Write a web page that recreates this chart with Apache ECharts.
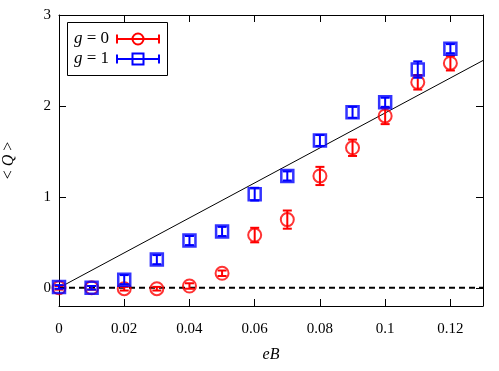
<!DOCTYPE html>
<html>
<head>
<meta charset="utf-8">
<script src="https://cdn.jsdelivr.net/npm/echarts@6/dist/echarts.min.js"></script>
<style>html,body{margin:0;padding:0;background:#fff;}#c{width:499px;height:371px;}</style>
</head>
<body>
<div id="c"></div>
<script>
const eB = [0, 0.01, 0.02, 0.03, 0.04, 0.05, 0.06, 0.07, 0.08, 0.09, 0.10, 0.11, 0.12];
const Q_g0 = [0, 0, -0.01, -0.01, 0.02, 0.16, 0.58, 0.75, 1.23, 1.54, 1.89, 2.26, 2.47];
const err_g0 = [0.02, 0.02, 0.02, 0.02, 0.03, 0.03, 0.08, 0.10, 0.10, 0.09, 0.09, 0.08, 0.08];
const Q_g1 = [0.01, 0, 0.09, 0.31, 0.52, 0.62, 1.03, 1.23, 1.62, 1.93, 2.04, 2.40, 2.63];
const err_g1 = [0.02, 0.02, 0.05, 0.05, 0.05, 0.05, 0.07, 0.05, 0.06, 0.06, 0.05, 0.09, 0.05];
const refLine = [[0, 0], [0.13, 2.5]];
const zeroLine = [[0, 0], [0.13, 0]];
const xTicks = [0, 0.02, 0.04, 0.06, 0.08, 0.1, 0.12];
const yTicks = [0, 1, 2, 3];
const legendLabels = ['g = 0', 'g = 1'];

const FONT = "'Times New Roman', 'Liberation Serif', serif";
const chart = echarts.init(document.getElementById('c'));

function errData(q, e) { return eB.map((x, i) => [x, q[i] - e[i], q[i] + e[i]]); }
function pts(q) { return eB.map((x, i) => [x, q[i]]); }
function errRender(color) {
  return function (params, api) {
    const x = api.value(0), lo = api.value(1), hi = api.value(2);
    const p1 = api.coord([x, lo]), p2 = api.coord([x, hi]);
    const w = 4.5;
    const st = { stroke: color, lineWidth: 2 };
    return {
      type: 'group',
      children: [
        { type: 'line', shape: { x1: p1[0], y1: p1[1], x2: p2[0], y2: p2[1] }, style: st },
        { type: 'line', shape: { x1: p1[0] - w, y1: p1[1], x2: p1[0] + w, y2: p1[1] }, style: st },
        { type: 'line', shape: { x1: p2[0] - w, y1: p2[1], x2: p2[0] + w, y2: p2[1] }, style: st }
      ]
    };
  };
}

function axisBase(ticks) {
  return {
    axisLine: { show: true, onZero: false, lineStyle: { color: '#000', width: 1 } },
    axisTick: { show: true, inside: true, length: 7, customValues: ticks, lineStyle: { color: '#000', width: 1 } },
    splitLine: { show: false }
  };
}

const legendRows = [
  { y: 39, color: 'red', label: legendLabels[0], sym: 'circle' },
  { y: 59, color: 'blue', label: legendLabels[1], sym: 'square' }
];
const legendChildren = [
  { type: 'rect', shape: { x: 67.5, y: 22.5, width: 100, height: 53 }, style: { fill: '#fff', stroke: '#000', lineWidth: 1 } }
];
legendRows.forEach(r => {
  const parts = r.label.split(' ');
  legendChildren.push({ type: 'text', x: 74, y: r.y, style: { text: '{i|' + parts[0] + '} ' + parts.slice(1).join(' '), fontFamily: FONT, fontSize: 17, fill: '#000', verticalAlign: 'middle', rich: { i: { fontStyle: 'italic', fontFamily: FONT, fontSize: 17 } } } });
  const st = { stroke: r.color, lineWidth: 2, fill: 'none' };
  legendChildren.push({ type: 'line', shape: { x1: 117, y1: r.y, x2: 159, y2: r.y }, style: st });
  legendChildren.push({ type: 'line', shape: { x1: 117, y1: r.y - 4.5, x2: 117, y2: r.y + 4.5 }, style: st });
  legendChildren.push({ type: 'line', shape: { x1: 159, y1: r.y - 4.5, x2: 159, y2: r.y + 4.5 }, style: st });
  if (r.sym === 'circle') {
    legendChildren.push({ type: 'circle', shape: { cx: 138, cy: r.y, r: 5.5 }, style: { stroke: r.color, lineWidth: 2, fill: 'none' } });
  } else {
    legendChildren.push({ type: 'rect', shape: { x: 132.5, y: r.y - 5.5, width: 11, height: 11 }, style: { stroke: r.color, lineWidth: 2, fill: 'none' } });
  }
});

chart.setOption({
  animation: false,
  backgroundColor: '#fff',
  grid: { left: 59, right: 16, top: 15, bottom: 65, containLabel: false, outerBoundsMode: 'none' },
  xAxis: [
    Object.assign(axisBase(xTicks), {
      type: 'value', min: 0, max: 0.13, position: 'bottom',
      name: 'eB', nameLocation: 'middle', nameGap: 41,
      nameTextStyle: { fontFamily: FONT, fontSize: 16, fontStyle: 'italic', color: '#000' },
      axisLabel: { show: true, margin: 16, fontFamily: FONT, fontSize: 15, color: '#000', customValues: xTicks,
        formatter: v => String(+v.toFixed(2)) }
    }),
    Object.assign(axisBase(xTicks), {
      type: 'value', min: 0, max: 0.13, position: 'top', axisLabel: { show: false }
    })
  ],
  yAxis: [
    Object.assign(axisBase(yTicks), {
      type: 'value', min: -0.2, max: 3, position: 'left',
      name: '< {i|Q} >', nameLocation: 'middle', nameRotate: 90, nameGap: 42,
      nameTextStyle: { fontFamily: FONT, fontSize: 16, color: '#000', rich: { i: { fontStyle: 'italic', fontFamily: FONT, fontSize: 16 } } },
      axisLabel: { show: true, margin: 8, fontFamily: FONT, fontSize: 15, color: '#000', customValues: yTicks,
        formatter: v => String(Math.round(v)) }
    }),
    Object.assign(axisBase(yTicks), {
      type: 'value', min: -0.2, max: 3, position: 'right', axisLabel: { show: false }
    })
  ],
  series: [
    { type: 'line', data: zeroLine, symbol: 'none', lineStyle: { color: '#000', width: 2, type: [6, 4] }, z: 1 },
    { type: 'line', data: refLine, symbol: 'none', lineStyle: { color: '#000', width: 1 }, z: 1 },
    { type: 'custom', data: errData(Q_g0, err_g0), renderItem: errRender('red'), z: 2 },
    { type: 'scatter', data: pts(Q_g0), symbol: 'circle', symbolSize: 13, itemStyle: { color: 'rgba(0,0,0,0)', borderColor: 'red', borderWidth: 2 }, z: 3 },
    { type: 'custom', data: errData(Q_g1, err_g1), renderItem: errRender('blue'), z: 4 },
    { type: 'scatter', data: pts(Q_g1), symbol: 'rect', symbolSize: 12, itemStyle: { color: 'rgba(0,0,0,0)', borderColor: 'blue', borderWidth: 2.5 }, z: 5 }
  ],
  graphic: [{ type: 'group', z: 100, children: legendChildren }]
});
</script>
</body>
</html>
